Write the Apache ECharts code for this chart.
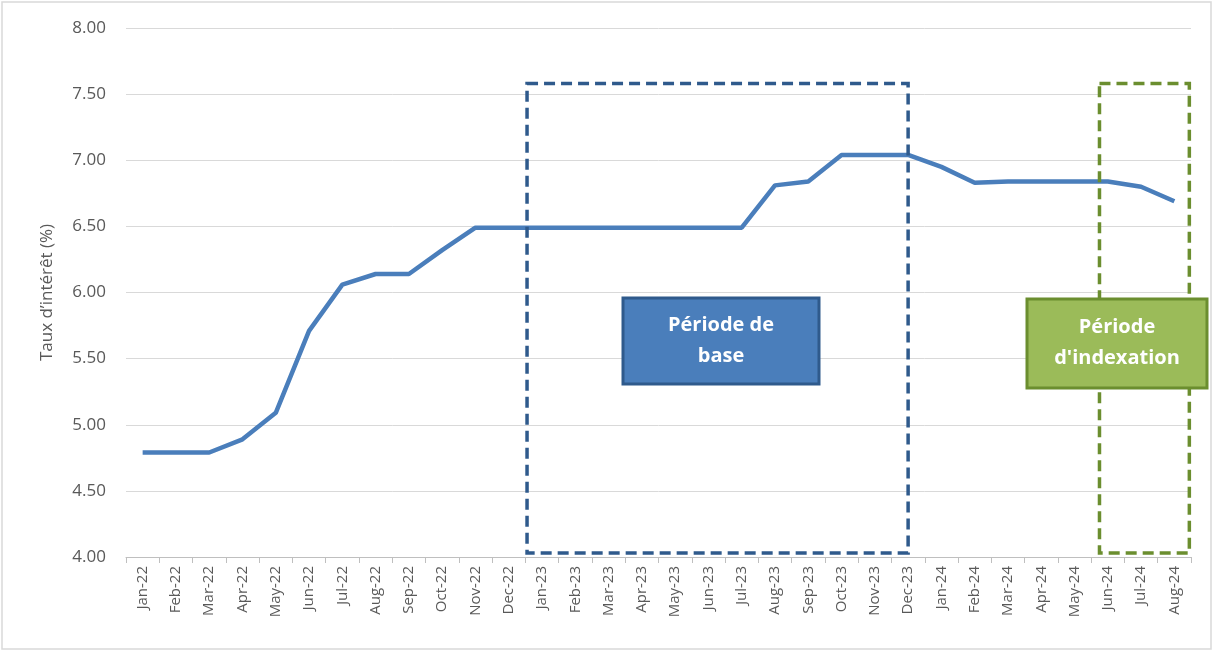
<!DOCTYPE html>
<html>
<head>
<meta charset="utf-8">
<script src="https://cdn.jsdelivr.net/npm/echarts@6/dist/echarts.min.js"></script>
<style>
  html, body { margin: 0; padding: 0; background: #fff; }
  #main { width: 1215px; height: 654px; }
</style>
</head>
<body>
<div id="main"></div>
<script>
// données
const mois = ['Jan-22','Feb-22','Mar-22','Apr-22','May-22','Jun-22','Jul-22','Aug-22','Sep-22','Oct-22','Nov-22','Dec-22',
  'Jan-23','Feb-23','Mar-23','Apr-23','May-23','Jun-23','Jul-23','Aug-23','Sep-23','Oct-23','Nov-23','Dec-23',
  'Jan-24','Feb-24','Mar-24','Apr-24','May-24','Jun-24','Jul-24','Aug-24']
const taux = [4.79, 4.79, 4.79, 4.89, 5.09, 5.71, 6.06, 6.14, 6.14, 6.32, 6.49, 6.49,
  6.49, 6.49, 6.49, 6.49, 6.49, 6.49, 6.49, 6.81, 6.84, 7.04, 7.04, 7.04,
  6.95, 6.83, 6.84, 6.84, 6.84, 6.84, 6.80, 6.69]
const yTicks = [4, 8, 0.5] // min, max, intervalle

// périodes (en positions de mois, 0 = bord gauche de Jan-22)
const periodeBase = [12.05, 23.5, 7.58, 4.03]
const periodeIndex = [29.25, 31.95, 7.58, 4.03]

const dom = document.getElementById('main')
const myChart = echarts.init(dom)

const option = {
  animation: false,
  grid: { left: 126, right: 24, top: 28, bottom: 97 },
  xAxis: [
    {
      type: 'category',
      data: mois,
      boundaryGap: true,
      axisLine: { lineStyle: { color: '#bfbfbf', width: 1 } },
      axisTick: { show: true, length: 6, lineStyle: { color: '#bfbfbf' } },
      axisLabel: { rotate: 90, color: '#595959', fontSize: 15, fontFamily: 'Open Sans', margin: 9 }
    },
    // axe caché pour placer les rectangles pointillés
    { type: 'value', min: 0, max: 32, show: false }
  ],
  yAxis: {
    type: 'value',
    min: yTicks[0],
    max: yTicks[1],
    interval: yTicks[2],
    name: 'Taux d\u2019intérêt (%)',
    nameLocation: 'middle',
    nameGap: 70,
    nameTextStyle: { color: '#595959', fontSize: 17, fontFamily: 'Open Sans' },
    axisLine: { show: false },
    axisTick: { show: false },
    axisLabel: { formatter: v => v.toFixed(2), color: '#595959', fontSize: 17, fontFamily: 'Open Sans', margin: 20 },
    splitLine: { lineStyle: { color: '#d9d9d9', width: 1 } }
  },
  series: [
    {
      type: 'line',
      data: taux,
      symbol: 'none',
      lineStyle: { color: '#4a7ebb', width: 4.5 },
      z: 3
    },
    {
      type: 'line',
      xAxisIndex: 1,
      data: [],
      markArea: {
        silent: true,
        z: 4,
        data: [
          [
            { coord: [periodeBase[0], periodeBase[2]], itemStyle: { color: 'transparent', borderColor: '#2f5a8c', borderWidth: 3.5, borderType: [11, 6] } },
            { coord: [periodeBase[1], periodeBase[3]] }
          ],
          [
            { coord: [periodeIndex[0], periodeIndex[2]], itemStyle: { color: 'transparent', borderColor: '#6b8e2f', borderWidth: 3.5, borderType: [11, 6] } },
            { coord: [periodeIndex[1], periodeIndex[3]] }
          ]
        ]
      }
    }
  ],
  graphic: [
    {
      type: 'rect',
      shape: { x: 2, y: 2, width: 1209, height: 647 },
      style: { fill: 'none', stroke: '#d9d9d9', lineWidth: 1.5 },
      silent: true
    },
    {
      type: 'rect', z: 100,
      shape: { x: 623, y: 298, width: 196, height: 86 },
      style: { fill: '#4a7ebb', stroke: '#2f5a8c', lineWidth: 3 }
    },
    {
      type: 'text', z: 101,
      x: 721, y: 341,
      style: { text: 'Période de\nbase', fill: '#fff', font: 'bold 20px "Open Sans"', align: 'center', verticalAlign: 'middle', lineHeight: 31 }
    },
    {
      type: 'rect', z: 100,
      shape: { x: 1027, y: 299, width: 180, height: 89 },
      style: { fill: '#9bbb59', stroke: '#6b8e2f', lineWidth: 3 }
    },
    {
      type: 'text', z: 101,
      x: 1117, y: 343,
      style: { text: 'Période\nd\'indexation', fill: '#fff', font: 'bold 20px "Open Sans"', align: 'center', verticalAlign: 'middle', lineHeight: 31 }
    }
  ]
}

myChart.setOption(option)
</script>
</body>
</html>
